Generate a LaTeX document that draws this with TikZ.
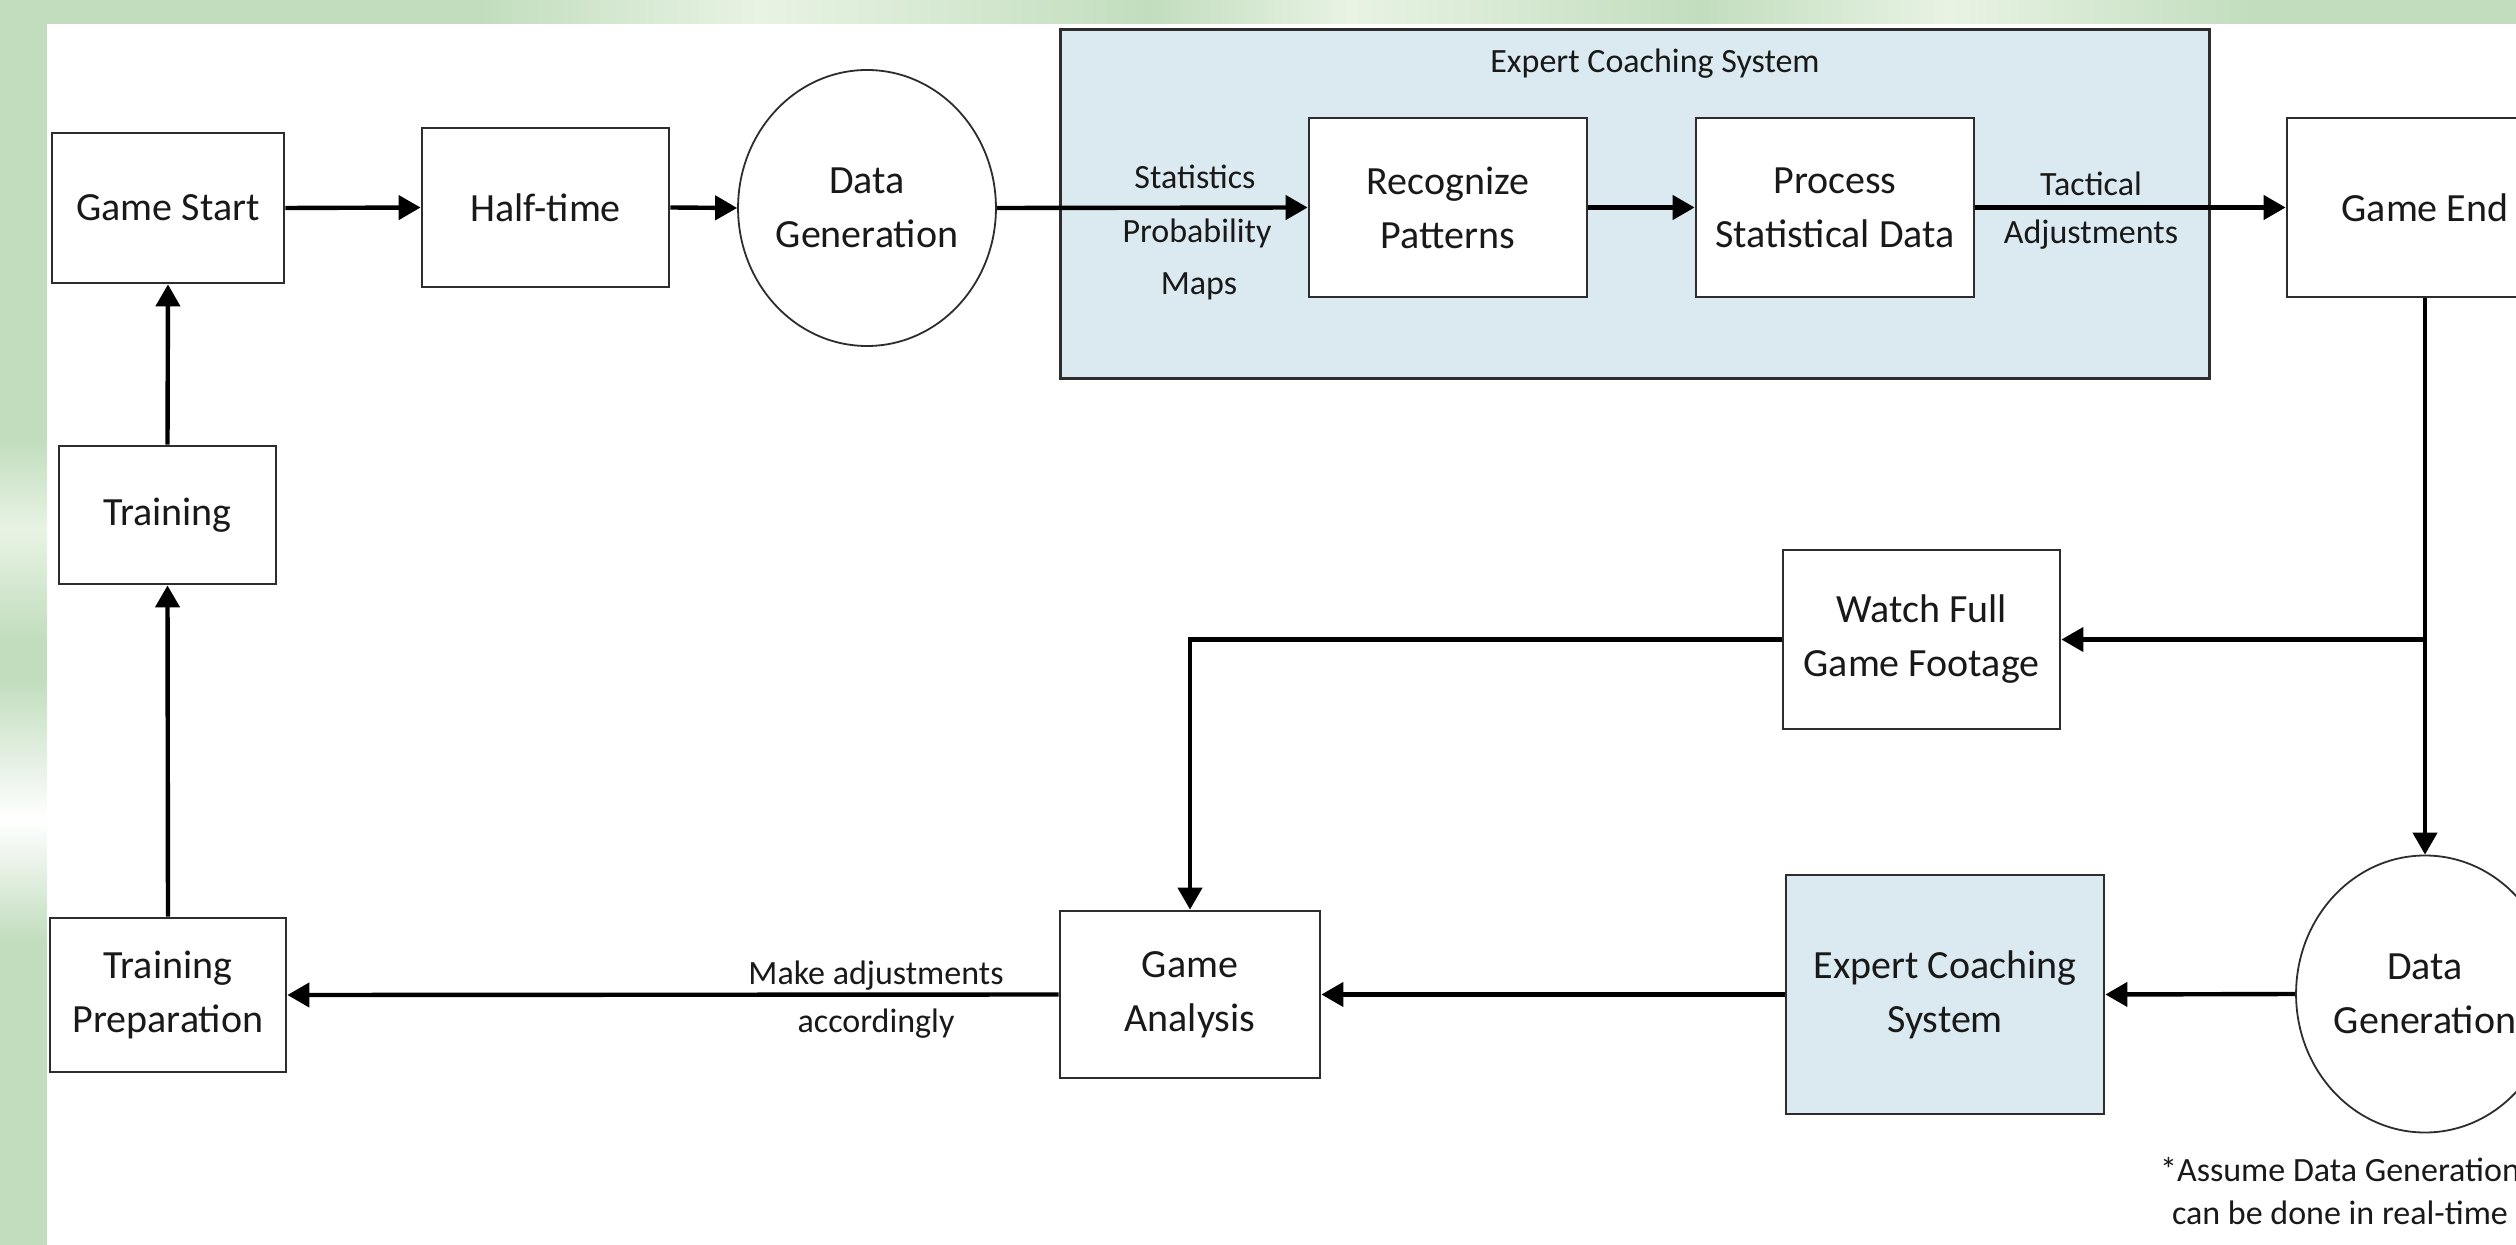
\documentclass[tikz,border=0pt]{standalone}
\usepackage{fontspec}
\setmainfont{Carlito}
\usetikzlibrary{arrows.meta,shapes.geometric,calc}

\definecolor{bggreen}{RGB}{194,221,190}
\definecolor{bglight}{RGB}{232,243,228}
\definecolor{ecsblue}{RGB}{219,234,240}
\definecolor{edgec}{RGB}{45,45,45}
\definecolor{txtc}{RGB}{25,25,25}

\begin{document}
\begin{tikzpicture}[x=0.5pt,y=-0.5pt,
  box/.style={draw=edgec,line width=1.4pt,fill=white,rectangle,inner sep=0pt,align=center,
              font=\fontsize{20}{27}\selectfont,text=txtc},
  oval/.style={draw=edgec,line width=0.9pt,fill=white,ellipse,inner sep=0pt,align=center,
              font=\fontsize{20}{27}\selectfont,text=txtc},
  lbl/.style={font=\fontsize{17}{24}\selectfont,text=txtc,inner sep=0pt,anchor=base},
  conn/.style={draw=black,line width=2.2pt,-{Triangle[length=11pt,width=12pt]}},
  bare/.style={draw=black,line width=2.2pt}
]
\useasboundingbox (0,0) rectangle (2516,1245);
\clip (0,0) rectangle (2516,1245);

% background
\fill[bggreen] (0,0) rectangle (2516,1245);
\shade[left color=bggreen,right color=bglight] (480,0) rectangle (760,24);
\shade[left color=bglight,right color=bggreen] (760,0) rectangle (1150,24);
\shade[left color=bggreen,right color=bglight] (1150,0) rectangle (1350,24);
\shade[left color=bglight,right color=bggreen] (1350,0) rectangle (1700,24);
\shade[left color=bggreen,right color=bglight] (1700,0) rectangle (1950,24);
\shade[left color=bglight,right color=bggreen] (1950,0) rectangle (2250,24);
\shade[top color=bggreen,bottom color=bglight] (0,440) rectangle (47,530);
\shade[top color=bglight,bottom color=bggreen] (0,530) rectangle (47,640);
\shade[top color=bggreen,bottom color=white] (0,680) rectangle (47,820);
\shade[top color=white,bottom color=bggreen] (0,820) rectangle (47,940);
\fill[white] (47,24) rectangle (2516,1245);

% expert coaching system container
\node[draw=edgec,line width=1.5pt,fill=ecsblue,rectangle,inner sep=0pt,
      minimum width=574.5pt,minimum height=174.5pt] (ecsa) at (1634.5,204.5) {};
\node[lbl] (ecstitle) at (1655,73) {Expert Coaching System};

% top row
\node[box,minimum width=116pt,minimum height=75pt] (gs) at (168,208) {Game Start};
\node[box,minimum width=123.5pt,minimum height=79.5pt] (ht) at (545.5,207.5) {Half-time};
\node[oval,minimum width=121pt,minimum height=138pt] (dga) at (867,208) {Data\\Generation};
\node[box,minimum width=139pt,minimum height=89.5pt] (rp) at (1448,207.5) {Recognize\\Patterns};
\node[box,minimum width=139pt,minimum height=89.5pt] (psd) at (1835,207.5) {Process\\Statistical Data};
\node[box,minimum width=138pt,minimum height=89.5pt] (ge) at (2425,207.5) {Game End};

% left column
\node[box,minimum width=108.5pt,minimum height=69pt] (tr) at (167.5,515) {Training};
\node[box,minimum width=118pt,minimum height=77pt] (tp) at (168,995) {Training\\Preparation};

% middle / bottom
\node[box,minimum width=138.5pt,minimum height=89.5pt] (wf) at (1921.5,639.5) {Watch Full\\Game Footage};
\node[box,minimum width=130pt,minimum height=83.5pt] (ga) at (1190,994.5) {Game\\Analysis};
\node[box,fill=ecsblue,minimum width=159pt,minimum height=119.5pt] (ecsb) at (1945,994.5) {Expert Coaching\\System};
\node[oval,minimum width=117pt,minimum height=138.5pt] (dgb) at (2425,994) {Data\\Generation};

% connectors
\draw[conn] (gs.east) -- (ht.west);
\draw[conn] (ht.east) -- (dga.west);
\draw[conn] (dga.east) -- (rp.west);
\draw[conn] (rp.east) -- (psd.west);
\draw[conn] (psd.east) -- (ge.west);
\draw[conn] (ge.south) -- (dgb.north);
\coordinate (split) at (ge.south |- wf.east);
\draw[conn] (split) -- (wf.east);
\draw[conn] (wf.west) -| (ga.north);
\draw[conn] (dgb.west) -- (ecsb.east);
\draw[conn] (ecsb.west) -- (ga.east);
\draw[conn] (ga.west) -- (tp.east);
\draw[conn] (tp.north) -- (tr.south);
\draw[conn] (tr.north) -- (gs.south);

% connector labels
\node[lbl] (lstat) at (1195,189) {Statistics};
\node[lbl] (lprob) at (1197,243) {Probability};
\node[lbl] (lmaps) at (1199,295) {Maps};
\node[lbl] (ltac) at (2091,196) {Tactical};
\node[lbl] (ladj) at (2091,244) {Adjustments};
\node[lbl] (lmake) at (876,984) {Make adjustments};
\node[lbl] (lacc) at (876,1032) {accordingly};

% footnote
\node[lbl] (fn1) at (2340,1181) {*Assume Data Generation};
\node[lbl] (fn2) at (2340,1224) {can be done in real-time};
\end{tikzpicture}
\end{document}
